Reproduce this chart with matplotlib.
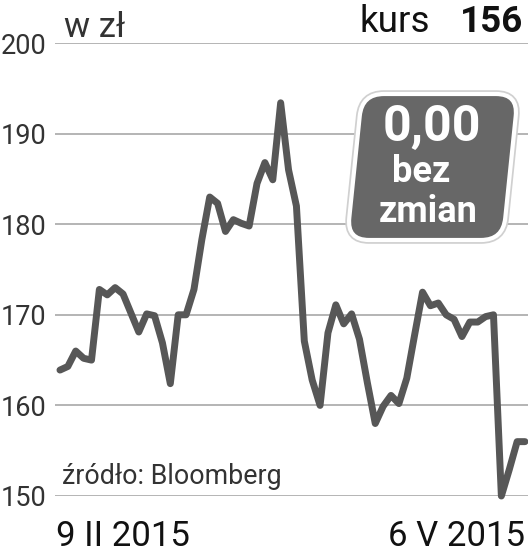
import numpy as np
import matplotlib
matplotlib.use("Agg")
import matplotlib.pyplot as plt
from matplotlib.patches import FancyBboxPatch
from matplotlib.transforms import Affine2D

# kurs akcji, notowania dzienne 9 II 2015 - 6 V 2015
kurs = [163.9, 164.3, 166.0, 165.2, 165.0, 172.8, 172.2, 173.0, 172.3, 170.2,
        168.1, 170.1, 169.9, 166.9, 162.4, 170.0, 170.0, 172.8, 178.3, 183.0,
        182.3, 179.2, 180.5, 180.1, 179.8, 184.5, 186.8, 184.9, 193.4, 186.0,
        182.0, 167.1, 162.8, 160.0, 168.0, 171.1, 169.0, 170.1, 167.3, 162.5,
        158.0, 159.9, 161.1, 160.2, 163.0, 167.8, 172.5, 171.0, 171.3, 170.0,
        169.5, 167.6, 169.2, 169.2, 169.8, 170.0, 150.0, 152.9, 156.0, 156.0]
y_ticks = [150, 160, 170, 180, 190, 200]
x_labels = ["9 II 2015", "6 V 2015"]

W, H = 528, 554
fig = plt.figure(figsize=(W / 100, H / 100), dpi=100)
ax = fig.add_axes([55 / W, 1 - 496 / H, 473 / W, 453 / H])

x = np.arange(len(kurs))
ax.plot(x, kurs, color="#575757", lw=5, solid_joinstyle="round",
        solid_capstyle="round", clip_on=False, zorder=3)

ax.set_xlim(-0.63, len(kurs) - 1 + 0.38)
ax.set_ylim(150, 200)
ax.set_yticks(y_ticks)
ax.set_yticklabels([str(v) for v in y_ticks], family="Roboto",
                   fontsize=19.5, color="#333333")
ax.set_xticks([])
ax.tick_params(axis="y", length=0, pad=6)
ax.grid(axis="y", color="#a0a0a0", lw=1.1)
ax.set_axisbelow(True)
for s in ax.spines.values():
    s.set_visible(False)


def fx(px):
    return px / W


def fy(py):
    return 1 - py / H


# naglowek
fig.text(fx(64), fy(37), "w zł", family="Roboto",
         fontsize=25, color="#333333", va="baseline")
fig.text(fx(360), fy(32), "kurs", family="Roboto", fontsize=26.5,
         color="#111111", va="baseline")
fig.text(fx(523), fy(32), "156", family="Roboto", fontweight="bold",
         fontsize=26.5, color="#111111", va="baseline", ha="right")

fig.text(fx(62), fy(484), "źródło: Bloomberg", family="Roboto",
         fontsize=19.3, color="#333333", va="baseline")

# daty pod osia
fig.text(fx(56), fy(546), x_labels[0], family="Roboto", fontsize=25,
         color="#111111", va="baseline")
fig.text(fx(525), fy(546), x_labels[1], family="Roboto", fontsize=25,
         color="#111111", va="baseline", ha="right")

# ramka ze zmiana kursu
x0, y0, bw, bh = 347, H - 240, 156, 146
skew = np.degrees(np.arctan(15 / bh))
tr = Affine2D().skew_deg(skew, 0).translate(x0, y0)
shadow = FancyBboxPatch((0, 0), bw, bh, boxstyle="round,pad=0,rounding_size=22",
                        fc="none", ec="#d0d0d0", lw=5.5, transform=tr, zorder=5)
box = FancyBboxPatch((0, 0), bw, bh, boxstyle="round,pad=0,rounding_size=22",
                     fc="#676767", ec="white", lw=3, transform=tr, zorder=6)
fig.add_artist(shadow)
fig.add_artist(box)

fig.text(fx(432), fy(141), "0,00", family="Roboto", fontweight="bold",
         fontsize=36, color="white", ha="center", va="baseline", zorder=7)
fig.text(fx(421), fy(182), "bez", family="Roboto", fontweight="bold",
         fontsize=26, color="white", ha="center", va="baseline", zorder=7)
fig.text(fx(428), fy(222), "zmian", family="Roboto", fontweight="bold",
         fontsize=26, color="white", ha="center", va="baseline", zorder=7)

fig.savefig("out.png", dpi=100)
